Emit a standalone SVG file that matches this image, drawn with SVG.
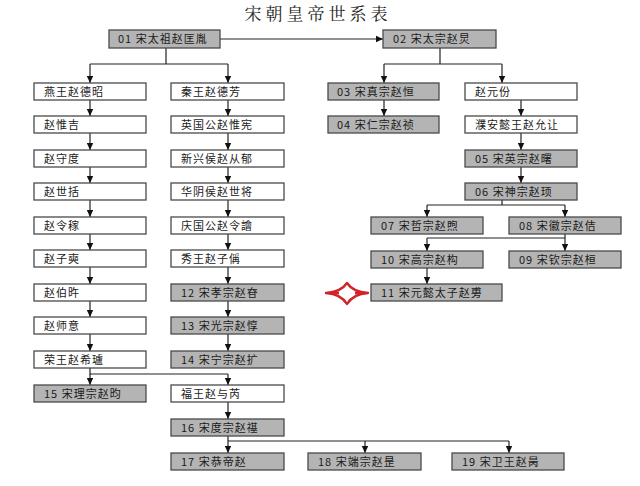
<svg xmlns="http://www.w3.org/2000/svg" width="640" height="486" viewBox="0 0 640 486">
<style>
.b{stroke:#4a4a4a;stroke-width:1.3}
.g{fill:#b4b4b4}
.w{fill:#ffffff}
.t{font-family:"Noto Sans CJK SC","Noto Sans",sans-serif;font-size:11px;letter-spacing:1px;fill:#1a1a1a}
.c{fill:none;stroke:#222;stroke-width:1.2}
.a{marker-end:url(#ah)}
</style>
<defs>
<marker id="ah" markerUnits="userSpaceOnUse" markerWidth="8" markerHeight="8" refX="7" refY="4" orient="auto">
<path d="M0,0.8 L7,4 L0,7.2 Z" fill="#111"/>
</marker>
</defs>
<rect width="640" height="486" fill="#ffffff"/>
<text x="318" y="20" text-anchor="middle" font-family="'Noto Serif CJK SC','Noto Sans CJK SC',serif" font-size="17" letter-spacing="4" fill="#222">宋朝皇帝世系表</text>

<g id="connectors">
<path class="c a" d="M220,39 H383"/>
<path class="c" d="M166,48 V64 M90,64 H228"/>
<path class="c a" d="M90,64 V83"/><path class="c a" d="M228,64 V83"/>
<path class="c a" d="M90,100 V116"/><path class="c a" d="M90,133 V150"/><path class="c a" d="M90,167 V183"/><path class="c a" d="M90,200 V217"/>
<path class="c a" d="M90,234 V250"/><path class="c a" d="M90,267 V284"/><path class="c a" d="M90,301 V317"/><path class="c a" d="M90,334 V351"/>
<path class="c a" d="M228,100 V116"/><path class="c a" d="M228,133 V150"/><path class="c a" d="M228,167 V183"/><path class="c a" d="M228,200 V217"/>
<path class="c a" d="M228,234 V250"/><path class="c a" d="M228,267 V284"/><path class="c a" d="M228,301 V317"/><path class="c a" d="M228,334 V351"/>
<path class="c" d="M90,368 V374 H228"/>
<path class="c a" d="M90,374 V385"/><path class="c a" d="M228,374 V385"/>
<path class="c a" d="M228,402 V419"/>
<path class="c a" d="M228,436 V453"/>
<path class="c" d="M228,441 H509"/>
<path class="c a" d="M365,441 V453"/><path class="c a" d="M509,441 V453"/>
<path class="c" d="M440,48 V64 M384,64 H502"/>
<path class="c a" d="M384,64 V83"/><path class="c a" d="M502,64 V83"/>
<path class="c a" d="M384,100 V116"/>
<path class="c a" d="M521,100 V116"/><path class="c a" d="M521,133 V150"/><path class="c a" d="M521,167 V183"/>
<path class="c" d="M502,200 V205 M427,205 H565"/>
<path class="c a" d="M427,205 V217"/><path class="c a" d="M565,205 V217"/>
<path class="c a" d="M565,234 V251"/>
<path class="c" d="M565,238 H427"/>
<path class="c a" d="M427,238 V251"/>
<path class="c a" d="M427,268 V284"/>
</g>

<g id="n01"><rect class="b g" x="109" y="30" width="111" height="18"/><text class="t" x="118" y="43">01 宋太祖赵匡胤</text></g>
<g id="n02"><rect class="b g" x="383" y="30" width="113" height="18"/><text class="t" x="393" y="43">02 宋太宗赵炅</text></g>

<g id="L1"><rect class="b w" x="34" y="83" width="112" height="17"/><text class="t" x="44" y="95.5">燕王赵德昭</text></g>
<g id="L2"><rect class="b w" x="34" y="116" width="112" height="17"/><text class="t" x="44" y="128.5">赵惟吉</text></g>
<g id="L3"><rect class="b w" x="34" y="150" width="112" height="17"/><text class="t" x="44" y="162.5">赵守度</text></g>
<g id="L4"><rect class="b w" x="34" y="183" width="112" height="17"/><text class="t" x="44" y="195.5">赵世括</text></g>
<g id="L5"><rect class="b w" x="34" y="217" width="112" height="17"/><text class="t" x="44" y="229.5">赵令稼</text></g>
<g id="L6"><rect class="b w" x="34" y="250" width="112" height="17"/><text class="t" x="44" y="262.5">赵子奭</text></g>
<g id="L7"><rect class="b w" x="34" y="284" width="112" height="17"/><text class="t" x="44" y="296.5">赵伯旿</text></g>
<g id="L8"><rect class="b w" x="34" y="317" width="112" height="17"/><text class="t" x="44" y="329.5">赵师意</text></g>
<g id="L9"><rect class="b w" x="34" y="351" width="112" height="17"/><text class="t" x="44" y="363.5">荣王赵希瓐</text></g>
<g id="n15"><rect class="b g" x="34" y="385" width="112" height="17"/><text class="t" x="44" y="397.5">15 宋理宗赵昀</text></g>

<g id="R1"><rect class="b w" x="171" y="83" width="113" height="17"/><text class="t" x="181" y="95.5">秦王赵德芳</text></g>
<g id="R2"><rect class="b w" x="171" y="116" width="113" height="17"/><text class="t" x="181" y="128.5">英国公赵惟宪</text></g>
<g id="R3"><rect class="b w" x="171" y="150" width="113" height="17"/><text class="t" x="181" y="162.5">新兴侯赵从郁</text></g>
<g id="R4"><rect class="b w" x="171" y="183" width="113" height="17"/><text class="t" x="181" y="195.5">华阴侯赵世将</text></g>
<g id="R5"><rect class="b w" x="171" y="217" width="113" height="17"/><text class="t" x="181" y="229.5">庆国公赵令譮</text></g>
<g id="R6"><rect class="b w" x="171" y="250" width="113" height="17"/><text class="t" x="181" y="262.5">秀王赵子偁</text></g>
<g id="n12"><rect class="b g" x="171" y="284" width="113" height="17"/><text class="t" x="181" y="296.5">12 宋孝宗赵昚</text></g>
<g id="n13"><rect class="b g" x="171" y="317" width="113" height="17"/><text class="t" x="181" y="329.5">13 宋光宗赵惇</text></g>
<g id="n14"><rect class="b g" x="171" y="351" width="113" height="17"/><text class="t" x="181" y="363.5">14 宋宁宗赵扩</text></g>
<g id="R10"><rect class="b w" x="171" y="385" width="113" height="17"/><text class="t" x="181" y="397.5">福王赵与芮</text></g>
<g id="n16"><rect class="b g" x="171" y="419" width="113" height="17"/><text class="t" x="181" y="431.5">16 宋度宗赵禥</text></g>
<g id="n17"><rect class="b g" x="171" y="453" width="113" height="17"/><text class="t" x="181" y="465.5">17 宋恭帝赵</text></g>
<g id="n18"><rect class="b g" x="308" y="453" width="113" height="17"/><text class="t" x="318" y="465.5">18 宋端宗赵昰</text></g>
<g id="n19"><rect class="b g" x="452" y="453" width="112" height="17"/><text class="t" x="462" y="465.5">19 宋卫王赵昺</text></g>

<g id="n03"><rect class="b g" x="328" y="83" width="111" height="17"/><text class="t" x="337" y="95.5">03 宋真宗赵恒</text></g>
<g id="n04"><rect class="b g" x="328" y="116" width="111" height="17"/><text class="t" x="337" y="128.5">04 宋仁宗赵祯</text></g>
<g id="Y1"><rect class="b w" x="465" y="83" width="112" height="17"/><text class="t" x="475" y="95.5">赵元份</text></g>
<g id="Y2"><rect class="b w" x="465" y="116" width="112" height="17"/><text class="t" x="475" y="128.5">濮安懿王赵允让</text></g>
<g id="n05"><rect class="b g" x="465" y="150" width="112" height="17"/><text class="t" x="475" y="162.5">05 宋英宗赵曙</text></g>
<g id="n06"><rect class="b g" x="465" y="183" width="112" height="17"/><text class="t" x="475" y="195.5">06 宋神宗赵顼</text></g>
<g id="n07"><rect class="b g" x="371" y="217" width="112" height="17"/><text class="t" x="381" y="229.5">07 宋哲宗赵煦</text></g>
<g id="n08"><rect class="b g" x="509" y="217" width="112" height="17"/><text class="t" x="519" y="229.5">08 宋徽宗赵佶</text></g>
<g id="n10"><rect class="b g" x="371" y="251" width="112" height="17"/><text class="t" x="381" y="263.5">10 宋高宗赵构</text></g>
<g id="n09"><rect class="b g" x="509" y="251" width="112" height="17"/><text class="t" x="519" y="263.5">09 宋钦宗赵桓</text></g>
<g id="n11"><rect class="b g" x="371" y="284" width="131" height="17"/><text class="t" x="381" y="296.5">11 宋元懿太子赵旉</text></g>

<g id="star"><path d="M326,293 Q341,292 347,283 Q353,292 368,293 Q353,294 347,304 Q341,294 326,293 Z" fill="#ffffff" stroke="#d2232a" stroke-width="2.4" stroke-linejoin="round"/><path d="M326,293 L339,291.5 L339,294.5 Z M368,293 L355,291.5 L355,294.5 Z" fill="#d2232a"/></g>
</svg>
